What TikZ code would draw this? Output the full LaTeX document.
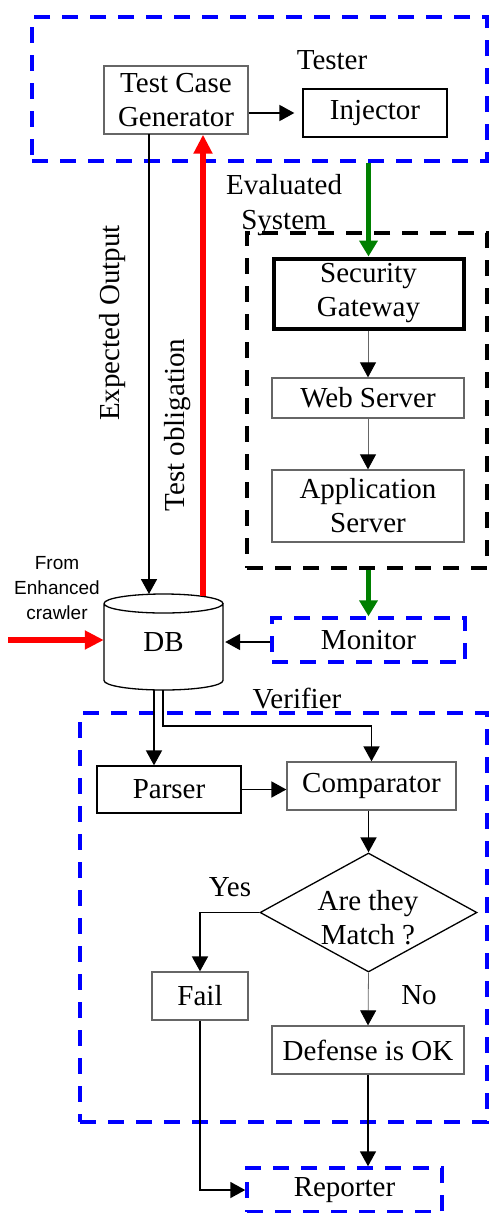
\documentclass[tikz,border=0pt]{standalone}
\usepackage{fontspec}
\setmainfont{Liberation Serif}
\newfontfamily\labsans{Liberation Sans}
\usetikzlibrary{arrows.meta,shapes.geometric}
\begin{document}
\begin{tikzpicture}[x=1pt,y=-1pt,
  font=\fontsize{29}{34}\selectfont,
  box/.style={draw, line width=1.3pt, inner sep=0pt, align=center},
  graybox/.style={box, draw=black!60},
  thickbox/.style={box, line width=4pt},
  bluegroup/.style={draw=blue, line width=3.5pt, dash pattern=on 16pt off 12pt, inner sep=0pt},
  blackgroup/.style={draw=black, line width=3.5pt, dash pattern=on 16pt off 12pt, inner sep=0pt},
  conn/.style={line width=1.8pt, -{Triangle[length=15pt,width=16pt]}},
  thinconn/.style={draw=black!60, line width=0.8pt, -{Triangle[length=15pt,width=16pt,fill=black,color=black]}},
  redconn/.style={draw=red, line width=6pt, -{Triangle[length=19pt,width=18pt]}},
  greenconn/.style={draw=green!50!black, line width=5pt, -{Triangle[length=16pt,width=18pt]}},
  lbl/.style={inner sep=0pt, align=center}
]
\useasboundingbox (0,0) rectangle (489,1213);

% group boxes
\node[bluegroup, minimum width=455pt, minimum height=144pt] (tester) at (259.5,89) {};
\node[blackgroup, minimum width=240pt, minimum height=335pt] (evsys) at (367,400.5) {};
\node[bluegroup, minimum width=407pt, minimum height=409pt] (verifier) at (283.5,917.5) {};

% labels
\node[lbl] (testerlbl) at (332,60) {Tester};
\node[lbl, font=\fontsize{29}{35}\selectfont] (evlbl) at (284,205) {Evaluated\\System};
\node[lbl] (verlbl) at (297,698) {Verifier};
\node[lbl, rotate=90] (eolbl) at (113,323) {Expected Output};
\node[lbl, rotate=90] (tolbl) at (178,425) {Test obligation};
\node[lbl, font=\labsans\fontsize{19}{25}\selectfont] (fromlbl) at (57,588) {From\\Enhanced\\crawler};
\node[lbl] (yeslbl) at (230,887) {Yes};
\node[lbl] (nolbl) at (419,995) {No};

% boxes
\node[graybox, minimum width=144pt, minimum height=68pt] (tcg) at (176,100) {Test Case\\Generator};
\node[box, minimum width=144pt, minimum height=48pt] (inj) at (375,113) {Injector};
\node[thickbox, minimum width=190pt, minimum height=70pt] (sg) at (368.5,293.5) {Security\\Gateway};
\node[graybox, minimum width=192pt, minimum height=40pt] (ws) at (368,398) {Web Server};
\node[graybox, minimum width=192pt, minimum height=72pt] (as) at (368,506) {Application\\Server};
\node[bluegroup, minimum width=193pt, minimum height=44pt] (mon) at (368.5,640) {Monitor};
\node[inner sep=0pt, minimum width=119pt, minimum height=96pt] (db) at (163.5,642) {DB};
\node[box, minimum width=144pt, minimum height=47pt] (parser) at (169,789.5) {Parser};
\node[graybox, minimum width=169pt, minimum height=48pt] (comp) at (371.5,786) {Comparator};
\node[draw, line width=1.3pt, diamond, aspect=1.8, inner sep=0pt, minimum width=217pt, minimum height=119pt] (dec) at (368.5,912.5) {};
\node[lbl] (dectxt) at (368,918) {Are they\\Match ?};
\node[graybox, minimum width=96pt, minimum height=48pt] (fail) at (200,996) {Fail};
\node[graybox, minimum width=192pt, minimum height=48pt] (def) at (368,1050) {Defense is OK};
\node[bluegroup, minimum width=195pt, minimum height=44pt] (rep) at (344.5,1190) {Reporter};

% cylinder for DB
\draw[line width=1.3pt] (104,603.5) arc[start angle=180, end angle=540, x radius=59.5, y radius=9.5]
  (104,603.5) -- (104,680.5) arc[start angle=180, end angle=360, x radius=59.5, y radius=-9.5] -- (223,603.5);

% connectors
\coordinate (eotop) at (149,134);
\coordinate (eobot) at (149,594);
\coordinate (tostart) at (203,596);
\coordinate (redstart) at (8,640);
\coordinate (dbout1) at (154,690);
\coordinate (dbout2) at (163,690);
\coordinate (dbturn) at (163,726);
\draw[conn] (tcg.east |- inj.west) -- ([xshift=-8pt]inj.west);
\draw[conn] (eotop) -- (eobot);
\draw[redconn] (tostart) -- (tcg.south -| tostart);
\draw[greenconn] (tester.south -| sg.north) -- (sg.north);
\draw[thinconn] (sg.south -| ws.north) -- (ws.north);
\draw[thinconn] (ws.south) -- (as.north);
\draw[greenconn] (evsys.south -| mon.north) -- (mon.north);
\draw[conn] (mon.west |- db.east) -- ([xshift=2pt]db.east);
\draw[redconn] (redstart) -- (db.west |- redstart);
\draw[conn] (dbout1) -- (parser.north -| dbout1);
\draw[conn] (dbout2) -- (dbturn) -| (comp.north);
\draw[conn] (parser.east) -- (comp.west |- parser.east);
\draw[conn] (comp.south -| dec.north) -- (dec.north);
\draw[conn] (dec.west) -| (fail.north);
\draw[thinconn] (dec.south) -- (def.north);
\draw[conn] (def.south) -- (rep.north -| def.south);
\draw[conn] (fail.south) |- (rep.west);
\end{tikzpicture}
\end{document}
